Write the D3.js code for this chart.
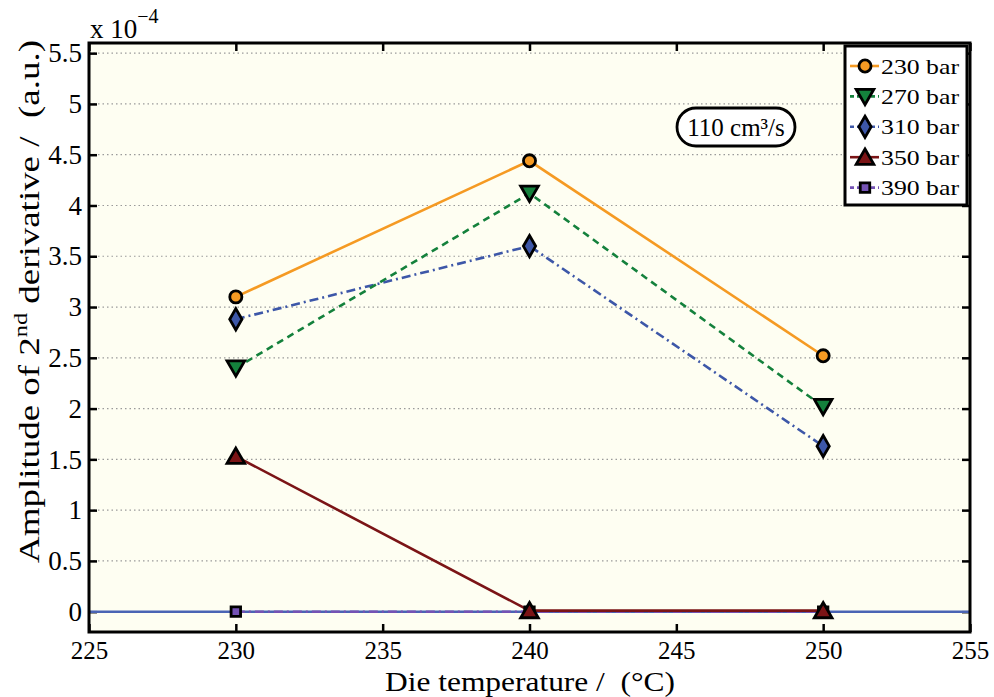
<!DOCTYPE html>
<html>
<head>
<meta charset="utf-8">
<script src="https://cdn.jsdelivr.net/npm/d3@7"></script>
<style>
  body { margin: 0; background: #fff; }
  svg text { font-family: "Liberation Serif", "DejaVu Serif", serif; fill: #000; }
</style>
</head>
<body>
<div id="chart"></div>
<script>
// data
var temps = [230, 240, 250];
var seriesNames = ["230 bar", "270 bar", "310 bar", "350 bar", "390 bar"];
var values230 = [3.10, 4.44, 2.52];
var values270 = [2.40, 4.12, 2.02];
var values310 = [2.88, 3.60, 1.63];
var values350 = [1.53, 0.01, 0.01];
var values390 = [0.00, 0.00, 0.00];
var xTicks = [225, 230, 235, 240, 245, 250, 255];
var yTicks = [0, 0.5, 1, 1.5, 2, 2.5, 3, 3.5, 4, 4.5, 5, 5.5];

var svgWidth = 994;
var svgHeight = 697;

var margin = { top: 43, right: 24, bottom: 65, left: 89 };
var width = svgWidth - margin.left - margin.right;
var height = svgHeight - margin.top - margin.bottom;

var svg = d3.select("#chart")
    .append("svg")
    .attr("width", svgWidth)
    .attr("height", svgHeight);

var chartGroup = svg.append("g")
    .attr("transform", `translate(${margin.left}, ${margin.top})`);

// scales
var xScale = d3.scaleLinear().domain([225, 255]).range([0, width]);
var yScale = d3.scaleLinear().domain([-0.2, 5.6]).range([height, 0]);

// background
chartGroup.append("rect")
    .attr("width", width)
    .attr("height", height)
    .attr("fill", "#fefef2");

// grid
chartGroup.selectAll(".grid")
    .data(yTicks)
    .enter()
    .append("line")
    .attr("x1", 0)
    .attr("x2", width)
    .attr("y1", d => yScale(d))
    .attr("y2", d => yScale(d))
    .attr("stroke", "#9a9a9a")
    .attr("stroke-width", 1.2)
    .attr("stroke-dasharray", "1.5,3");

// axes (ticks inward)
var bottomAxis = d3.axisBottom(xScale).tickValues(xTicks).tickSize(-8).tickPadding(9).tickFormat(d3.format("d"));
var topAxis = d3.axisTop(xScale).tickValues(xTicks).tickSize(-8).tickFormat("");
var leftAxis = d3.axisLeft(yScale).tickValues(yTicks).tickSize(-8).tickPadding(7).tickFormat(d => d);
var rightAxis = d3.axisRight(yScale).tickValues(yTicks).tickSize(-8).tickFormat("");

function styleAxis(g, size) {
    g.attr("font-family", null);
    g.select(".domain").remove();
    g.selectAll(".tick line").attr("stroke", "#000").attr("stroke-width", 2.5);
    g.selectAll(".tick text").attr("font-size", size).attr("fill", "#000");
}

chartGroup.append("g").attr("transform", `translate(0, ${height})`).call(bottomAxis).call(styleAxis, 25);
chartGroup.append("g").call(topAxis).call(styleAxis, 25);
chartGroup.append("g").call(leftAxis).call(styleAxis, 27);
chartGroup.append("g").attr("transform", `translate(${width}, 0)`).call(rightAxis).call(styleAxis, 27);

// zero baseline
chartGroup.append("line")
    .attr("x1", xScale(225))
    .attr("x2", xScale(255))
    .attr("y1", yScale(0))
    .attr("y2", yScale(0))
    .attr("stroke", "#4a64b4")
    .attr("stroke-width", 2.5);

// series definitions
var series = [
    { name: seriesNames[0], values: values230, color: "#f59a23", dash: null, marker: d3.symbolCircle, size: 115, rot: 0 },
    { name: seriesNames[1], values: values270, color: "#14813c", dash: "7,5", marker: d3.symbolTriangle, size: 135, rot: 180 },
    { name: seriesNames[2], values: values310, color: "#3d57a8", dash: "9,4,2,4", marker: d3.symbolDiamond, size: 130, rot: 0 },
    { name: seriesNames[3], values: values350, color: "#7b1416", dash: null, marker: d3.symbolTriangle, size: 135, rot: 0 },
    { name: seriesNames[4], values: values390, color: "#7452b4", dash: "9,4,2,4", marker: d3.symbolSquare, size: 90, rot: 0 }
];

var line = d3.line()
    .x((d, i) => xScale(temps[i]))
    .y(d => yScale(d));

function markerShift(s) {
    return s.marker === d3.symbolTriangle ? (s.rot ? -2 : 2) : 0;
}

// draw in reverse so 230 bar sits on top
series.slice().reverse().forEach(function(s) {
    chartGroup.append("path")
        .datum(s.values)
        .attr("d", line)
        .attr("fill", "none")
        .attr("stroke", s.color)
        .attr("stroke-width", 2.6)
        .attr("stroke-dasharray", s.dash);
});

series.slice().reverse().forEach(function(s) {
    chartGroup.selectAll(null)
        .data(s.values)
        .enter()
        .append("path")
        .attr("d", d3.symbol().type(s.marker).size(s.size))
        .attr("transform", (d, i) => `translate(${xScale(temps[i])}, ${yScale(d) + markerShift(s)}) rotate(${s.rot})`)
        .attr("fill", s.color)
        .attr("stroke", "#000")
        .attr("stroke-width", 2.8);
});

// frame
chartGroup.append("rect")
    .attr("width", width)
    .attr("height", height)
    .attr("fill", "none")
    .attr("stroke", "#000")
    .attr("stroke-width", 3);

// legend
var legend = svg.append("g")
    .attr("transform", "translate(845, 46)");

legend.append("rect")
    .attr("width", 122)
    .attr("height", 159)
    .attr("fill", "#fff")
    .attr("stroke", "#000")
    .attr("stroke-width", 3);

series.forEach(function(s, i) {
    var yy = 20 + i * 30.4;
    legend.append("line")
        .attr("x1", 5).attr("x2", 34)
        .attr("y1", yy).attr("y2", yy)
        .attr("stroke", s.color)
        .attr("stroke-width", 2.6)
        .attr("stroke-dasharray", s.dash ? "4,3" : null);
    legend.append("path")
        .attr("d", d3.symbol().type(s.marker).size(s.size))
        .attr("transform", `translate(20, ${yy + markerShift(s)}) rotate(${s.rot})`)
        .attr("fill", s.color)
        .attr("stroke", "#000")
        .attr("stroke-width", 2.8);
    legend.append("text")
        .attr("x", 36)
        .attr("y", yy + 7.5)
        .attr("font-size", 22)
        .attr("textLength", 78)
        .attr("lengthAdjust", "spacingAndGlyphs")
        .text(s.name);
});

// annotation box
var ann = svg.append("g")
    .attr("transform", "translate(677, 108)");
ann.append("rect")
    .attr("width", 118)
    .attr("height", 38)
    .attr("rx", 19)
    .attr("fill", "#fff")
    .attr("stroke", "#000")
    .attr("stroke-width", 2.8);
ann.append("text")
    .attr("x", 59)
    .attr("y", 28)
    .attr("text-anchor", "middle")
    .attr("font-size", 25)
    .text("110 cm³/s");

// exponent label
var expo = svg.append("text")
    .attr("x", 90)
    .attr("y", 38)
    .attr("font-size", 27);
expo.append("tspan").text("x 10");
expo.append("tspan").attr("dy", -15).attr("font-size", 20).text("\u22124");

// axis labels
svg.append("text")
    .attr("x", 385)
    .attr("y", 691)
    .attr("font-size", 27)
    .attr("textLength", 290)
    .attr("lengthAdjust", "spacingAndGlyphs")
    .text("Die temperature /\u00a0\u00a0(°C)");

var yLabel = svg.append("text")
    .attr("transform", "translate(39, 563) rotate(-90)")
    .attr("font-size", 29)
    .attr("textLength", 523)
    .attr("lengthAdjust", "spacingAndGlyphs");
yLabel.append("tspan").text("Amplitude of 2");
yLabel.append("tspan").attr("dy", -12).attr("font-size", 19).text("nd");
yLabel.append("tspan").attr("dy", 12).text(" derivative /\u00a0\u00a0(a.u.)");
</script>
</body>
</html>
